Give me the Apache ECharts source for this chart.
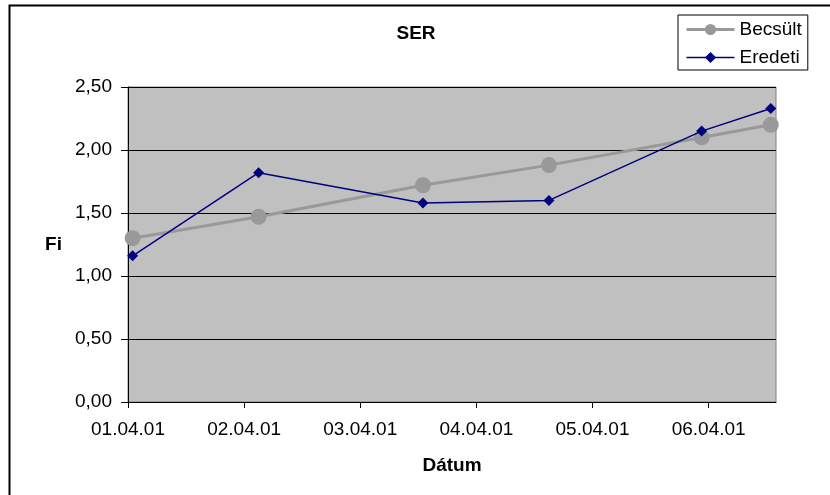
<!DOCTYPE html>
<html>
<head>
<meta charset="utf-8">
<script src="https://cdn.jsdelivr.net/npm/echarts@6/dist/echarts.min.js"></script>
<style>
  html, body { margin: 0; padding: 0; background: #fff; }
  #chart { width: 830px; height: 495px; }
</style>
</head>
<body>
<div id="chart"></div>
<script>
// Measurement times, in days after 01.04.01
const dayOffsets = [0.04, 1.125, 2.54, 3.625, 4.94, 5.535];
// Estimated and original Fi values
const becsult = [1.30, 1.47, 1.72, 1.88, 2.10, 2.20];
const eredeti = [1.16, 1.82, 1.58, 1.60, 2.15, 2.33];
// Date tick labels, one per day
const tickDays = [0, 1, 2, 3, 4, 5];
const tickLabels = ['01.04.01', '02.04.01', '03.04.01', '04.04.01', '05.04.01', '06.04.01'];

const FONT = '"Liberation Sans", Arial, sans-serif';

const pairs = (xs, ys) => xs.map((x, i) => [x, ys[i]]);

const chart = echarts.init(document.getElementById('chart'), null, { renderer: 'canvas' });

chart.setOption({
  animation: false,
  backgroundColor: '#ffffff',
  textStyle: { fontFamily: FONT, color: '#000' },
  graphic: [{
    type: 'rect',
    z: -10,
    shape: { x: 9.5, y: 5.5, width: 900, height: 600 },
    style: { fill: 'none', stroke: '#000', lineWidth: 2 }
  }],
  title: {
    text: 'SER',
    left: 411,
    top: 19,
    textAlign: 'center',
    textStyle: { fontFamily: FONT, fontSize: 19, fontWeight: 'bold', color: '#000' }
  },
  legend: {
    orient: 'vertical',
    left: 678,
    top: 15,
    padding: [5, 6, 3, 7],
    itemGap: 9,
    itemWidth: 48,
    itemHeight: 14,
    borderColor: '#000',
    borderWidth: 1,
    backgroundColor: '#fff',
    textStyle: { fontFamily: FONT, fontSize: 19, color: '#000' },
    data: [
      { name: 'Becsült', lineStyle: { width: 3 } },
      { name: 'Eredeti', lineStyle: { width: 1.5 } }
    ]
  },
  grid: {
    left: 128,
    top: 87,
    right: 54,
    bottom: 93,
    show: true,
    backgroundColor: '#c0c0c0',
    borderColor: '#808080',
    borderWidth: 1,
    containLabel: false
  },
  xAxis: {
    type: 'value',
    min: 0,
    max: 5.58,
    interval: 1,
    name: 'Dátum',
    nameLocation: 'middle',
    nameGap: 54,
    nameTextStyle: { fontFamily: FONT, fontSize: 19, fontWeight: 'bold', color: '#000' },
    axisLine: { show: true, onZero: false, lineStyle: { color: '#000', width: 1 } },
    axisTick: { show: true, length: 6, lineStyle: { color: '#000' }, customValues: tickDays },
    axisLabel: {
      show: true,
      margin: 18,
      fontSize: 19,
      color: '#000',
      fontFamily: FONT,
      customValues: tickDays,
      formatter: v => tickLabels[Math.round(v)] || ''
    },
    splitLine: { show: false }
  },
  yAxis: {
    type: 'value',
    min: 0,
    max: 2.5,
    interval: 0.5,
    name: 'Fi',
    nameLocation: 'middle',
    nameRotate: 0,
    nameGap: 66,
    nameTextStyle: { fontFamily: FONT, fontSize: 19, fontWeight: 'bold', color: '#000' },
    axisLine: { show: true, lineStyle: { color: '#000', width: 1 } },
    axisTick: { show: true, length: 7, lineStyle: { color: '#000' } },
    axisLabel: {
      margin: 16,
      fontSize: 19,
      color: '#000',
      fontFamily: FONT,
      formatter: v => v.toFixed(2).replace('.', ',')
    },
    splitLine: { show: true, lineStyle: { color: '#000', width: 1 } }
  },
  series: [
    {
      name: 'Becsült',
      type: 'line',
      data: pairs(dayOffsets, becsult),
      symbol: 'circle',
      symbolSize: 16,
      lineStyle: { color: '#999999', width: 3 },
      itemStyle: { color: '#999999' },
      z: 2
    },
    {
      name: 'Eredeti',
      type: 'line',
      data: pairs(dayOffsets, eredeti),
      symbol: 'diamond',
      symbolSize: [11, 11],
      lineStyle: { color: '#000080', width: 1.5 },
      itemStyle: { color: '#000080' },
      z: 3
    }
  ]
});
</script>
</body>
</html>
